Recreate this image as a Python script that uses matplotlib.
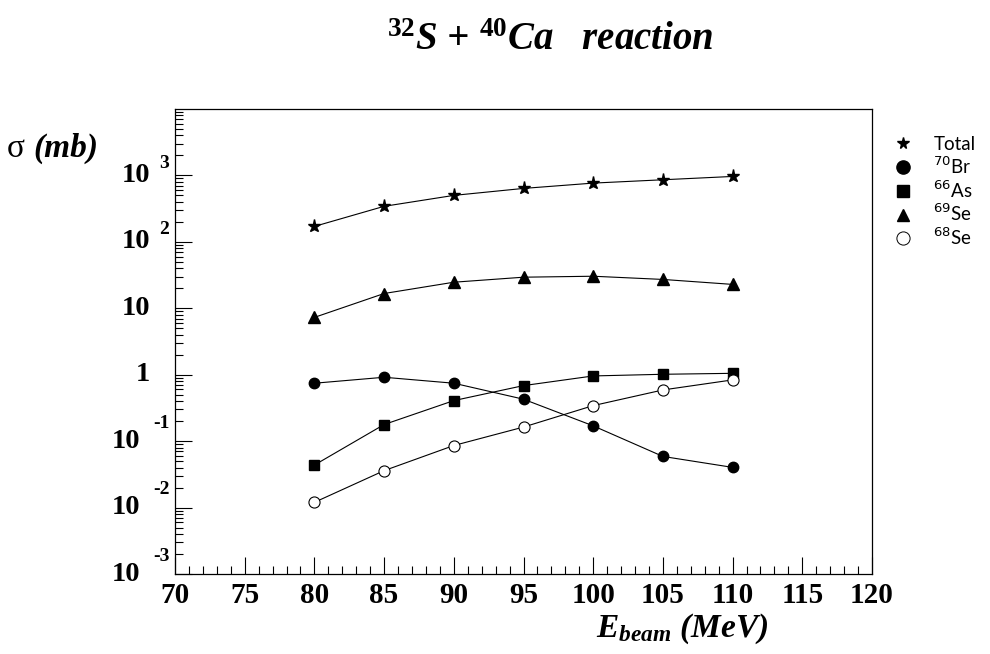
import numpy as np
import matplotlib.pyplot as plt
from matplotlib.lines import Line2D
from matplotlib.ticker import LogLocator, NullFormatter

# cross sections (mb) vs beam energy
energy = [80, 85, 90, 95, 100, 105, 110]
total = [171, 343, 501, 638, 767, 861, 966]
br70 = [0.745, 0.916, 0.745, 0.428, 0.170, 0.0589, 0.0403]
as66 = [0.0437, 0.178, 0.408, 0.686, 0.959, 1.016, 1.05]
se69 = [7.3, 16.7, 24.7, 29.4, 30.4, 27.2, 22.9]
se68 = [0.0120, 0.036, 0.086, 0.163, 0.343, 0.59, 0.836]

xticks = np.arange(70, 121, 5)
ytick_vals = [1e-3, 1e-2, 1e-1, 1, 10, 1e2, 1e3]
ytick_base = ['10', '10', '10', '1', '10', '10', '10']
ytick_exp = ['-3', '-2', '-1', '', '', '2', '3']

plt.rcParams['mathtext.fontset'] = 'custom'
plt.rcParams['mathtext.rm'] = 'Liberation Serif:bold'
plt.rcParams['mathtext.it'] = 'Liberation Serif:italic:bold'
plt.rcParams['mathtext.bf'] = 'Liberation Serif:bold'

serif_b = dict(family='Liberation Serif', weight='bold')
serif_bi = dict(family='Liberation Serif', weight='bold', style='italic')

fig = plt.figure(figsize=(9.9, 6.54), dpi=100)
ax = fig.add_axes([0.1768, 0.1223, 0.7040, 0.7110])

ax.plot(energy, total, color='k', lw=0.8, marker='*', ms=9.5)
ax.plot(energy, se69, color='k', lw=0.8, marker='^', ms=8)
ax.plot(energy, br70, color='k', lw=0.8, marker='o', ms=7.5)
ax.plot(energy, as66, color='k', lw=0.8, marker='s', ms=7.5)
ax.plot(energy, se68, color='k', lw=0.8, marker='o', ms=8, mfc='white', mec='k', mew=0.8)

ax.set_xlim(70, 120)
ax.set_yscale('log')
ax.set_ylim(1e-3, 1e4)

ax.set_xticks(xticks)
ax.set_xticks(np.arange(70, 121, 1), minor=True)
ax.set_yticks(ytick_vals)
ax.yaxis.set_minor_locator(LogLocator(base=10, subs=np.arange(2, 10), numticks=20))
ax.yaxis.set_major_formatter(NullFormatter())
ax.yaxis.set_minor_formatter(NullFormatter())

ax.tick_params(which='both', direction='in', top=False, right=False, width=0.8)
ax.tick_params(which='major', length=12)
ax.tick_params(which='minor', length=6)
ax.tick_params(axis='x', labelsize=21, pad=6)
for lab in ax.get_xticklabels():
    lab.set_fontfamily('Liberation Serif')
    lab.set_fontweight('bold')

for s in ax.spines.values():
    s.set_linewidth(0.9)

# ROOT style y labels: 10 with exponent up and right
ytr = ax.get_yaxis_transform()
for v, b, e in zip(ytick_vals, ytick_base, ytick_exp):
    neg = e.startswith('-')
    ax.annotate(b, xy=(0, v), xycoords=ytr, xytext=(-35 if neg else -25, 0),
                textcoords='offset pixels', ha='right', va='center', fontsize=20.5, **serif_b)
    if e:
        ax.annotate(e, xy=(0, v), xycoords=ytr, xytext=(-22 if neg else -16, 18 if neg else 12),
                    textcoords='offset pixels', ha='left', va='center', fontsize=14, **serif_b)

fig.text(550 / 990, 1 - 50 / 654, r'$^{32}$S + $^{40}$Ca   reaction', ha='center',
         va='baseline', fontsize=28, **serif_bi)
fig.text(7 / 990, 1 - 157 / 654, 'σ', ha='left', va='baseline', fontsize=24,
         family='Liberation Serif')
fig.text(33 / 990, 1 - 157 / 654, '(mb)', ha='left', va='baseline', fontsize=24, **serif_bi)
fig.text(768 / 990, 1 - 637 / 654, r'$E_{beam}$ (MeV)', ha='right', va='baseline',
         fontsize=24, **serif_bi)

handles = [
    Line2D([], [], ls='none', marker='*', ms=8.5, color='k'),
    Line2D([], [], ls='none', marker='o', ms=9.5, color='k'),
    Line2D([], [], ls='none', marker='s', ms=9, color='k'),
    Line2D([], [], ls='none', marker='^', ms=9, color='k'),
    Line2D([], [], ls='none', marker='o', ms=9.5, mfc='white', mec='k', mew=0.7),
]
labels = ['Total', r'$^{70}$Br', r'$^{66}$As', r'$^{69}$Se', r'$^{68}$Se']
leg = fig.legend(handles, labels, loc='upper left', bbox_to_anchor=(894 / 990, 1 - 136 / 654),
                 frameon=False, handlelength=1.0, handletextpad=1.1, labelspacing=0.12,
                 borderaxespad=0, borderpad=0,
                 prop=dict(family=['Lato', 'DejaVu Sans'], size=13.5))
for t in leg.get_texts():
    t.set_math_fontfamily('dejavusans')

fig.savefig('out.png', dpi=100)
